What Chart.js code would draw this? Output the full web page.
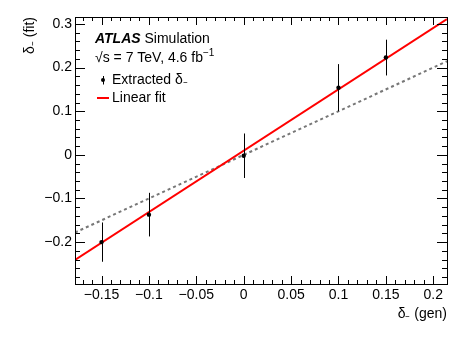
<!DOCTYPE html>
<html>
<head>
<meta charset="utf-8">
<script src="https://cdn.jsdelivr.net/npm/chart.js@4"></script>
<style>
  html, body { margin: 0; padding: 0; background: #fff; }
  #wrap { width: 471px; height: 339px; }
</style>
</head>
<body>
<div id="wrap"><canvas id="linearityChart" width="471" height="339"></canvas></div>
<script>
// Extracted points
const genValues = [-0.15, -0.1, 0, 0.1, 0.15];
const fitValues = [-0.200, -0.137, -0.002, 0.154, 0.223];
const fitErrors = [0.045, 0.050, 0.051, 0.054, 0.041];

// Linear fit and y = x reference, end points across the frame
const fitLineX = [-0.178, 0.2145];
const fitLineY = [-0.241, 0.311];
const diagX = [-0.178, 0.2145];
const diagY = [-0.178, 0.2145];

// Axis ticks
const xTicks = [-0.15, -0.1, -0.05, 0, 0.05, 0.1, 0.15, 0.2];
const xTickLabels = ['\u22120.15', '\u22120.1', '\u22120.05', '0', '0.05', '0.1', '0.15', '0.2'];
const yTicks = [-0.2, -0.1, 0, 0.1, 0.2, 0.3];
const yTickLabels = ['\u22120.2', '\u22120.1', '0', '0.1', '0.2', '0.3'];

const FONT = '"Liberation Sans", Arial, Helvetica, sans-serif';

// ROOT style frame with inward ticks on all four sides
const frameTicks = {
    id: 'frameTicks',
    afterDraw(chart) {
        const { ctx, chartArea: a, scales: { x, y } } = chart;
        ctx.save();
        ctx.strokeStyle = '#000';
        ctx.lineWidth = 1;
        ctx.beginPath();

        const xMinor = [];
        for (let v = -0.17; v <= 0.21; v += 0.01) xMinor.push(Math.round(v * 100) / 100);
        xMinor.forEach(v => {
            const major = xTicks.some(t => Math.abs(t - v) < 1e-6);
            const len = major ? 8 : 4;
            const px = Math.round(x.getPixelForValue(v)) + 0.5;
            ctx.moveTo(px, a.bottom); ctx.lineTo(px, a.bottom - len);
            ctx.moveTo(px, a.top); ctx.lineTo(px, a.top + len);
        });

        const yMinor = [];
        for (let v = -0.28; v <= 0.31; v += 0.02) yMinor.push(Math.round(v * 100) / 100);
        yMinor.forEach(v => {
            const major = yTicks.some(t => Math.abs(t - v) < 1e-6);
            const len = major ? 10 : 5;
            const py = Math.round(y.getPixelForValue(v)) + 0.5;
            ctx.moveTo(a.left, py); ctx.lineTo(a.left + len, py);
            ctx.moveTo(a.right, py); ctx.lineTo(a.right - len, py);
        });
        ctx.stroke();

        ctx.strokeRect(Math.round(a.left) + 0.5, Math.round(a.top) + 0.5,
            Math.round(a.right - a.left), Math.round(a.bottom - a.top));
        ctx.restore();
    }
};

// vertical error bars on the extracted points
const errorBars = {
    id: 'errorBars',
    afterDatasetsDraw(chart) {
        const { ctx, scales: { x, y } } = chart;
        ctx.save();
        ctx.strokeStyle = '#000';
        ctx.lineWidth = 1;
        ctx.beginPath();
        genValues.forEach((g, i) => {
            const px = Math.round(x.getPixelForValue(g)) + 0.5;
            ctx.moveTo(px, y.getPixelForValue(fitValues[i] + fitErrors[i]));
            ctx.lineTo(px, y.getPixelForValue(fitValues[i] - fitErrors[i]));
        });
        ctx.stroke();
        ctx.restore();
    }
};

// ATLAS label and legend
const labels = {
    id: 'labels',
    afterDraw(chart) {
        const { ctx } = chart;
        ctx.save();
        ctx.fillStyle = '#000';
        ctx.textBaseline = 'alphabetic';

        ctx.font = 'italic bold 14px ' + FONT;
        ctx.fillText('ATLAS', 95, 43);
        const w = ctx.measureText('ATLAS ').width;
        ctx.font = '14px ' + FONT;
        ctx.fillText('Simulation', 95 + w, 43);

        const line2 = '\u221As = 7 TeV, 4.6 fb';
        ctx.fillText(line2, 95, 62);
        const w2 = ctx.measureText(line2).width;
        ctx.font = '10px ' + FONT;
        ctx.fillText('\u22121', 95 + w2, 56);

        // legend
        ctx.font = '14px ' + FONT;
        ctx.fillText('Extracted \u03B4\u208B', 112, 84);
        ctx.fillText('Linear fit', 112, 102);

        ctx.beginPath();
        ctx.arc(103, 80, 2, 0, Math.PI * 2);
        ctx.fill();
        ctx.lineWidth = 1;
        ctx.beginPath();
        ctx.moveTo(103.5, 76); ctx.lineTo(103.5, 84.5);
        ctx.stroke();

        ctx.strokeStyle = '#ff0000';
        ctx.lineWidth = 2;
        ctx.beginPath();
        ctx.moveTo(97, 98); ctx.lineTo(109, 98);
        ctx.stroke();
        ctx.restore();
    }
};

const ctx = document.getElementById('linearityChart').getContext('2d');

new Chart(ctx, {
    type: 'scatter',
    data: {
        datasets: [
            {
                label: 'Extracted',
                data: genValues.map((g, i) => ({ x: g, y: fitValues[i] })),
                backgroundColor: '#000',
                borderColor: '#000',
                pointRadius: 2.2,
                pointBorderWidth: 0
            },
            {
                label: 'Linear fit',
                type: 'line',
                data: fitLineX.map((v, i) => ({ x: v, y: fitLineY[i] })),
                borderColor: '#ff0000',
                borderWidth: 2,
                pointRadius: 0,
                fill: false
            },
            {
                label: 'y = x',
                type: 'line',
                data: diagX.map((v, i) => ({ x: v, y: diagY[i] })),
                borderColor: '#777777',
                borderWidth: 2,
                borderDash: [3, 3],
                pointRadius: 0,
                fill: false
            }
        ]
    },
    options: {
        responsive: false,
        animation: false,
        events: [],
        layout: {
            padding: { top: 17, right: 24, left: 0, bottom: 0 }
        },
        plugins: {
            legend: { display: false },
            tooltip: { enabled: false }
        },
        scales: {
            x: {
                type: 'linear',
                min: -0.178,
                max: 0.2145,
                afterFit: scale => { scale.height = 55; },
                afterBuildTicks: scale => { scale.ticks = xTicks.map(v => ({ value: v })); },
                ticks: {
                    color: '#000',
                    padding: 3,
                    maxRotation: 0,
                    autoSkip: false,
                    font: { family: FONT, size: 14 },
                    callback: (value, index) => xTickLabels[index]
                },
                grid: { display: false, drawTicks: false },
                border: { display: false },
                title: {
                    display: true,
                    text: '\u03B4\u208B (gen)',
                    align: 'end',
                    color: '#000',
                    font: { family: FONT, size: 14 },
                    padding: { top: 0, bottom: 16 }
                }
            },
            y: {
                type: 'linear',
                min: -0.296,
                max: 0.316,
                afterFit: scale => { scale.width = 75; },
                afterBuildTicks: scale => { scale.ticks = yTicks.map(v => ({ value: v })); },
                ticks: {
                    color: '#000',
                    padding: 3,
                    autoSkip: false,
                    font: { family: FONT, size: 14 },
                    callback: (value, index) => yTickLabels[index]
                },
                grid: { display: false, drawTicks: false },
                border: { display: false },
                title: {
                    display: true,
                    text: '\u03B4\u208B (fit)',
                    align: 'end',
                    color: '#000',
                    font: { family: FONT, size: 14 },
                    padding: { top: 22, bottom: 0 }
                }
            }
        }
    },
    plugins: [errorBars, frameTicks, labels]
});
</script>
</body>
</html>
